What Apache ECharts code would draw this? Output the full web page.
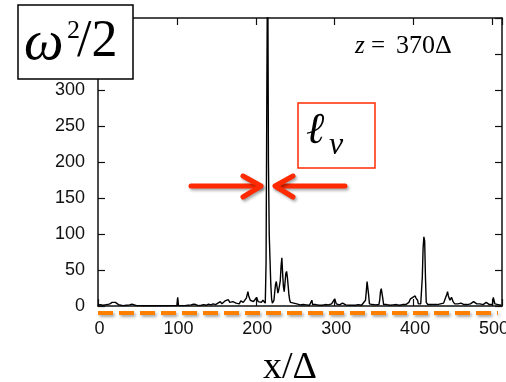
<!DOCTYPE html>
<html><head><meta charset="utf-8">
<script src="https://cdn.jsdelivr.net/npm/echarts@6/dist/echarts.min.js"></script>
<style>html,body{margin:0;padding:0;background:#fff;overflow:hidden}#c{width:506px;height:382px}</style>
</head><body><div id="c"></div>
<script>
// x positions (in units of Δ) and ω²/2 values
const xPositions = [0,3,6,9,12,15,18,20,22,24,26,29,32,36,40,43,46,49,53,57,61,65,69,73,77,81,85,89,93,97,100,101,102,106,110,114,118,121,124,127,131,134,137,140,143,146,149,152,155,157,159,161,163,165,167,169,171,173,175,177,179,181,182,184,186,188,190,191,193,195,197,199,201,203,205,207,209,211,212,213,214,215,216,217,218,219,220,221,222,223,224,225,226,227,228,229,230,231,232,233,234,235,236,237,238,239,240,241,242,243,244,246,248,250,252,254,256,258,260,262,264,266,268,270,271,272,274,276,278,280,282,284,286,288,290,292,294,296,298,300,302,304,306,308,310,312,314,316,318,320,322,324,326,328,330,332,334,336,339,340,341,342,343,344,346,348,350,352,354,356,357,358,359,360,361,362,364,366,368,370,372,374,376,378,380,382,384,386,388,390,392,394,396,397,398,399,400,401,402,403,404,405,406,407,409,411,412,413,414,415,416,418,420,422,424,426,428,430,432,434,436,438,440,442,443,444,446,448,450,452,454,456,458,460,462,464,466,468,470,472,474,476,478,480,482,484,486,488,490,492,494,496,498,500,501,502,503,505,507,509,511];
const omegaHalf = [1,2,1,1.5,2,3,5,4,5,4,2,1,0.5,1,1.5,2.5,1.5,0.5,0.5,0.3,0.5,0.3,0.5,0.3,0.5,0.3,0.5,0.3,0.5,0.5,0.5,12,0.5,0.5,0.5,1,1.5,2.5,2,0.5,1,2,1,2.5,1.5,3,2,4,6,3,4,7,5,9,5,3,6,8,4,6,3,7,9,5,7,11,20,14,8,10,6,9,12,6,4,5,8,6,4,60,300,520,200,100,64,30,10,4,2,8,20,30,34,26,18,22,20,35,55,67,45,27,20,32,45,48,40,28,15,8,5,3,4,2,3,2,1.5,2,2,3,1.5,2,1,2,8,2,1,2,1.5,1,2,1,3,2,3,1.5,2,3,4,10,3,2,1.5,2,4,3,1.5,1,1,1,1,1,1,1.5,2,1,1,2,8,20,34,35,15,3,1,2,1,1.5,3,2,8,20,24,22,10,2,1,2,1,1,1,1.5,3,2,1.5,1,1,2,3,2,3,5,10,12,8,12,11,13,14,11,13,8,3,1,3,40,80,96,90,40,5,2,3,2,4,2,3,2,2,3,2,4,10,16,20,14,8,12,6,3,5,3,2,4,3,2,3,2,3,3,4,6,7,3,2,3,3,2,4,5,3,2,3,2,12,10,3,1,2,1,1];
const xTickLabels = [0,100,200,300,400,500];
const yTickLabels = [0,50,100,150,200,250,300];

const chart = echarts.init(document.getElementById('c'), null, {renderer:'canvas'});
const axisLineStyle = {color:'#111', width:1.5};
const tick = () => ({show:true, inside:true, length:7, lineStyle:{color:'#111', width:1.2}});
const labelFont = 'Liberation Sans, Arial, sans-serif';
const serif = 'Liberation Serif, Times New Roman, serif';
const red = '#ff2a00';
const shadow = {shadowBlur:3, shadowColor:'rgba(0,0,0,0.35)', shadowOffsetX:1.5, shadowOffsetY:2};

chart.setOption({
  animation:false,
  backgroundColor:'#fff',
  grid:{left:98, right:4, top:18, bottom:76, containLabel:false, outerBoundsMode:'none'},
  xAxis:[
    {type:'value', min:0, max:512, interval:100, position:'bottom',
     axisLine:{onZero:false, lineStyle:axisLineStyle}, axisTick:tick(), splitLine:{show:false},
     axisLabel:{margin:14, fontSize:18, color:'#111', fontFamily:labelFont, hideOverlap:false,
       padding:[0,0,0,3],
       formatter:v => xTickLabels.includes(v) ? String(v) : ''},
     name:'x/Δ', nameLocation:'middle', nameGap:43,
     nameTextStyle:{fontFamily:serif, fontSize:38, color:'#000', padding:[0,20,0,0]}},
    {type:'value', min:0, max:512, interval:100, position:'top',
     axisLine:{onZero:false, lineStyle:axisLineStyle}, axisTick:tick(), splitLine:{show:false},
     axisLabel:{show:false}}
  ],
  yAxis:[
    {type:'value', min:0, max:400, interval:50, position:'left',
     axisLine:{show:true, onZero:false, lineStyle:axisLineStyle}, axisTick:tick(),
     splitLine:{show:false},
     axisLabel:{margin:13, fontSize:18, color:'#111', fontFamily:labelFont,
       formatter:v => yTickLabels.includes(v) ? String(v) : ''}},
    {type:'value', min:0, max:400, interval:50, position:'right',
     axisLine:{show:true, onZero:false, lineStyle:axisLineStyle}, axisTick:tick(),
     splitLine:{show:false}, axisLabel:{show:false}}
  ],
  series:[{
    type:'line', xAxisIndex:0, yAxisIndex:0,
    data:xPositions.map((x,i)=>[x, omegaHalf[i]]),
    showSymbol:false, clip:true,
    lineStyle:{color:'#000', width:1.4}
  }],
  graphic:[
    {type:'line', z:100, shape:{x1:98,y1:313,x2:498,y2:313},
     style:Object.assign({stroke:'#ff8000', lineWidth:4, lineDash:[15,6]}, shadow)},
    {type:'line', z:100, shape:{x1:191,y1:186,x2:260,y2:186},
     style:Object.assign({stroke:red, lineWidth:5, lineCap:'round'}, shadow)},
    {type:'polyline', z:100, shape:{points:[[243,176],[261,186],[243,197]]},
     style:Object.assign({stroke:red, fill:null, lineWidth:5, lineCap:'round', lineJoin:'round'}, shadow)},
    {type:'line', z:100, shape:{x1:276,y1:186,x2:345,y2:186},
     style:Object.assign({stroke:red, lineWidth:5, lineCap:'round'}, shadow)},
    {type:'polyline', z:100, shape:{points:[[293,176],[275,186],[293,197]]},
     style:Object.assign({stroke:red, fill:null, lineWidth:5, lineCap:'round', lineJoin:'round'}, shadow)},
    {type:'rect', z:100, shape:{x:298,y:103,width:77,height:65},
     style:{fill:'#fff', stroke:red, lineWidth:1.5}},
    {type:'text', z:101, x:306, y:131, style:{text:'ℓ', font:'italic 44px '+serif, fill:'#000', verticalAlign:'middle'}},
    {type:'text', z:101, x:329, y:146, style:{text:'v', font:'italic 32px '+serif, fill:'#000', verticalAlign:'middle'}},
    {type:'rect', z:100, shape:{x:18,y:5,width:115,height:74},
     style:{fill:'#fff', stroke:'#000', lineWidth:1.5}},
    {type:'text', z:101, x:24, y:44, style:{text:'ω', font:'italic 56px '+serif, fill:'#000', verticalAlign:'middle'}},
    {type:'text', z:101, x:67, y:31, style:{text:'2', font:'26px '+serif, fill:'#000', verticalAlign:'middle'}},
    {type:'text', z:101, x:77, y:42, style:{text:'/2', font:'52px '+serif, fill:'#000', verticalAlign:'middle'}},
    {type:'text', z:101, x:355, y:46, style:{text:'z', font:'italic 25px '+serif, fill:'#000', verticalAlign:'middle'}},
    {type:'text', z:101, x:371, y:46, style:{text:'=', font:'25px '+serif, fill:'#000', verticalAlign:'middle'}},
    {type:'text', z:101, x:396, y:46, style:{text:'370Δ', font:'26px '+serif, fill:'#000', verticalAlign:'middle'}}
  ]
});
</script></body></html>
